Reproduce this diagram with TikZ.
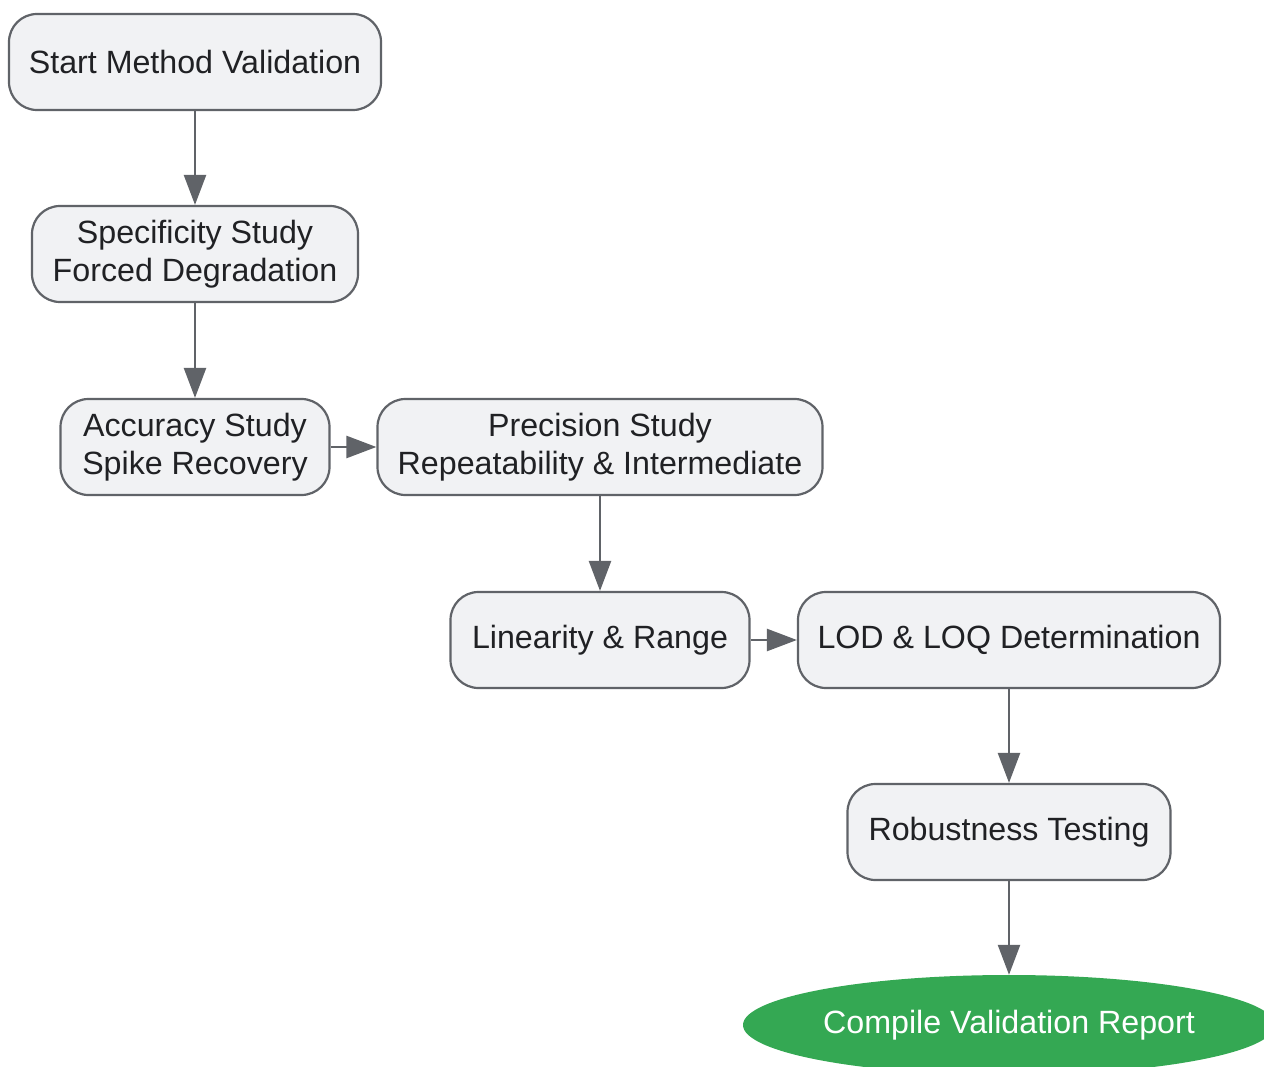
\documentclass[tikz,border=0pt]{standalone}
\usepackage{fontspec}
\setmainfont{Liberation Sans}
\usetikzlibrary{arrows.meta,shapes.geometric}

\definecolor{stepline}{HTML}{606368}
\definecolor{stepfill}{HTML}{F1F2F4}
\definecolor{steptext}{HTML}{202124}
\definecolor{endgreen}{HTML}{34A853}

\tikzset{
  stepbox/.style={draw=stepline, fill=stepfill, line width=2.2pt, rounded corners=28pt,
    minimum height=96pt, inner sep=0pt, align=center, text=steptext,
    font=\fontsize{32.2}{38}\selectfont},
  endbox/.style={ellipse, fill=endgreen, minimum width=532pt, minimum height=100pt,
    inner sep=0pt, text=white, font=\fontsize{32.2}{38}\selectfont},
  flow/.style={draw=stepline, line width=2.5pt, -{Triangle[length=30pt, width=22pt]}}
}

\begin{document}
\begin{tikzpicture}[x=1pt, y=-1pt]
\useasboundingbox (0,0) rectangle (1264,1067);

% Steps
\node[stepbox, minimum width=372pt] (start) at (195,62) {Start Method Validation};
\node[stepbox, minimum width=326pt] (spec) at (195,254) {Specificity Study\\Forced Degradation};
\node[stepbox, minimum width=269pt] (acc) at (195,447) {Accuracy Study\\Spike Recovery};
\node[stepbox, minimum width=445pt] (prec) at (600,447) {Precision Study\\Repeatability \& Intermediate};
\node[stepbox, minimum width=299pt] (lin) at (600,640) {Linearity \& Range};
\node[stepbox, minimum width=422pt] (lod) at (1009,640) {LOD \& LOQ Determination};
\node[stepbox, minimum width=323pt] (rob) at (1009,832) {Robustness Testing};

% End
\node[endbox] (report) at (1009,1025) {Compile Validation Report};

% Arrows
\draw[flow] (start) -- (spec);
\draw[flow] (spec) -- (acc);
\draw[flow] (acc) -- (prec);
\draw[flow] (prec) -- (lin);
\draw[flow] (lin) -- (lod);
\draw[flow] (lod) -- (rob);
\draw[flow] (rob) -- (report);
\end{tikzpicture}
\end{document}
